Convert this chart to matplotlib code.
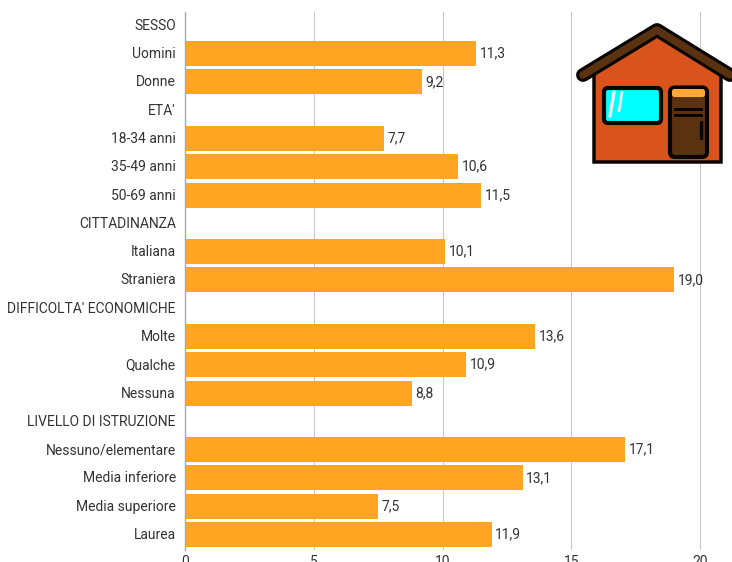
import matplotlib
matplotlib.use("Agg")
import matplotlib.pyplot as plt
from matplotlib.patches import FancyBboxPatch, Polygon, Rectangle
from matplotlib.transforms import ScaledTranslation

labels = ["SESSO", "Uomini", "Donne", "ETA'", "18-34 anni", "35-49 anni", "50-69 anni",
          "CITTADINANZA", "Italiana", "Straniera", "DIFFICOLTA' ECONOMICHE", "Molte",
          "Qualche", "Nessuna", "LIVELLO DI ISTRUZIONE", "Nessuno/elementare",
          "Media inferiore", "Media superiore", "Laurea"]
values = [None, 11.3, 9.2, None, 7.7, 10.6, 11.5, None, 10.1, 19.0, None, 13.6,
          10.9, 8.8, None, 17.1, 13.1, 7.5, 11.9]
x_ticks = [0, 5, 10, 15, 20]

W, H = 732, 562
plt.rcParams['font.family'] = ['Roboto', 'DejaVu Sans']

fig = plt.figure(figsize=(W / 100, H / 100), dpi=100)
ax = fig.add_axes([185.5 / W, 1 - 549.5 / H, (W - 185.5) / W, (549.5 - 12) / H])

# bars, header rows stay empty
for i, v in enumerate(values):
    if v is None:
        continue
    ax.barh(i, v, height=0.885, color="#ffa521", zorder=2)
    ax.annotate(f"{v:.1f}".replace(".", ","), (v, i), xytext=(2.5, 0), textcoords="offset points",
                va="center", ha="left", fontsize=10, color="#333333", zorder=3)

ax.set_xlim(0, (W - 185.5) / 25.73)
ax.set_ylim(18.53, -0.47)
ax.set_yticks(range(len(labels)))
ax.set_yticklabels(labels, fontsize=10, color="#333333")
ax.set_xticks(x_ticks)
ax.set_xticklabels([str(t) for t in x_ticks], fontsize=10, color="#333333")
ax.tick_params(axis="y", length=0, pad=7)
ax.tick_params(axis="x", length=0, pad=4)
ax.grid(axis="x", color="#c8c8c8", lw=0.8, zorder=0)
ax.set_axisbelow(True)
for side in ["top", "right", "bottom"]:
    ax.spines[side].set_visible(False)
ax.spines["left"].set_color("#aaaaaa")
ax.spines["left"].set_linewidth(1)

# y labels sit a pixel higher in the original
nudge = ScaledTranslation(0, 1 / 100, fig.dpi_scale_trans)
for lab in ax.get_yticklabels():
    lab.set_transform(lab.get_transform() + nudge)

# house icon, drawn in pixel coordinates
icon = fig.add_axes([0, 0, 1, 1], facecolor="none")
icon.set_xlim(0, W)
icon.set_ylim(H, 0)
icon.axis("off")
black = "#0a0505"
brown = "#5a3210"
icon.add_patch(Polygon([(594, 162), (594, 70), (657, 32), (721, 70), (721, 162)],
                       fc="#d9541c", ec=black, lw=2.5, joinstyle="miter"))
icon.plot([583, 657, 730], [75, 30, 75], color=black, lw=10, solid_capstyle="round", solid_joinstyle="round")
icon.plot([583, 657, 730], [75, 30, 75], color=brown, lw=5.5, solid_capstyle="round", solid_joinstyle="round")
icon.add_patch(FancyBboxPatch((604, 88), 57, 35, boxstyle="round,pad=0,rounding_size=4",
                              fc="#00ffff", ec=black, lw=3))
icon.plot([610, 614], [116, 92], color="#e8f0f0", lw=2.5, solid_capstyle="round")
icon.plot([619, 622], [111, 92], color="#e8f0f0", lw=2, solid_capstyle="round")
icon.add_patch(FancyBboxPatch((670, 87.5), 37, 69.5, boxstyle="round,pad=0,rounding_size=5",
                              fc=brown, ec=black, lw=3))
icon.add_patch(FancyBboxPatch((672, 89), 33, 8, boxstyle="round,pad=0,rounding_size=2.5",
                              fc="#ffa938", ec="none"))
icon.add_patch(Rectangle((674, 107.5), 29, 3, fc=black, ec="none"))
icon.add_patch(Rectangle((674, 114), 29, 3, fc=black, ec="none"))
icon.plot([700.5, 700.5], [122, 138], color=black, lw=2.5, solid_capstyle="round")

fig.savefig("out.png", dpi=100)
